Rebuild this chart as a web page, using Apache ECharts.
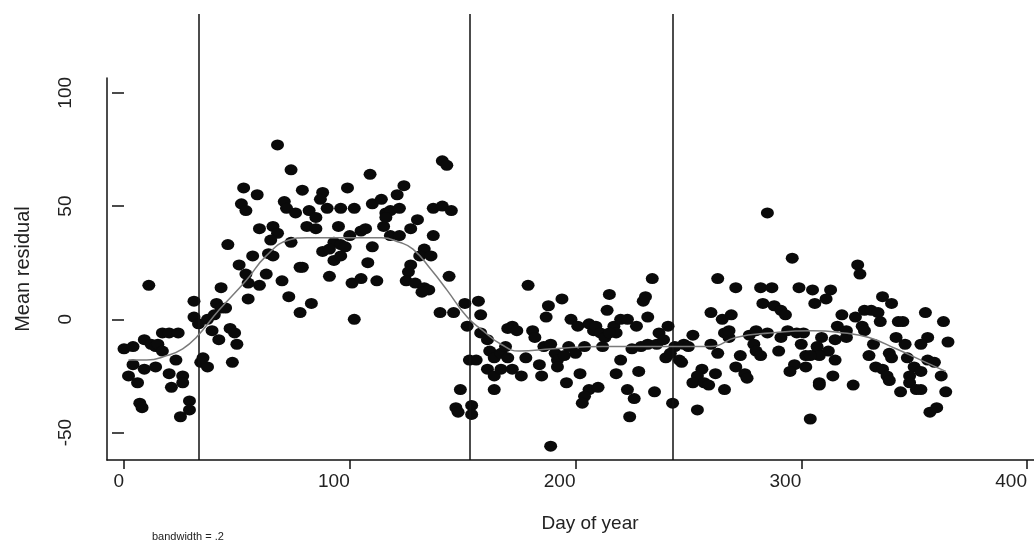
<!DOCTYPE html>
<html>
<head>
<meta charset="utf-8">
<script src="https://cdn.jsdelivr.net/npm/echarts@6/dist/echarts.min.js"></script>
<style>
  html, body { margin: 0; padding: 0; background: #fff; }
  #chart { width: 1034px; height: 544px; }
</style>
</head>
<body>
<div id="chart"></div>
<script>
// daily mean residuals [day, value]
const points = [
  [0,-13],[4,-12],[4,-20],[2,-25],[6,-28],[9,-22],[7,-37],[8,-39],[9,-9],[11,15],[12,-11],[14,-12],[15,-11],[17,-14],
  [17,-6],[20,-6],[24,-6],[14,-21],[20,-24],[23,-18],[21,-30],[26,-25],[26,-28],[29,-36],[29,-40],[25,-43],[31,8],
  [31,1],[33,-2],[34,-19],[37,-21],[35,-17],[37,0],[40,2],[41,7],[43,5],[45,5],[39,-5],[42,-9],[43,14],[48,-19],
  [47,-4],[49,-6],[50,-11],[46,33],[51,24],[54,20],[55,16],[53,58],[52,51],[54,48],[55,9],
  [68,77],[74,66],[109,64],[59,55],[79,57],[71,52],[72,49],[76,47],[82,48],[88,56],[87,53],[90,49],[99,58],[96,49],
  [102,49],[110,51],[114,53],[116,47],[115,41],[60,40],[66,41],[68,38],[65,35],[74,34],[81,41],[85,40],[85,45],
  [95,41],[100,37],[105,39],[107,40],[93,34],[96,33],[98,32],[88,30],[91,31],[93,26],[96,28],[110,32],[108,25],
  [57,28],[64,29],[66,28],[63,20],[78,23],[79,23],[70,17],[60,15],[91,19],[101,16],[105,18],[112,17],[73,10],
  [83,7],[78,3],[102,0],
  [141,70],[143,68],[124,59],[121,55],[137,49],[141,50],[145,48],[118,48],[122,49],[116,45],[130,44],[127,40],
  [118,37],[122,37],[137,37],[133,31],[131,28],[136,28],[127,24],[126,21],[144,19],[125,17],[129,16],[133,14],
  [135,13],[132,12],[140,3],[146,3],[151,7],[157,8],[158,2],[152,-3],[158,-6],[161,-9],[172,-3],[170,-4],[174,-5],
  [179,15],[153,-18],[156,-18],[162,-14],[164,-17],[167,-15],[170,-17],[169,-12],[161,-22],[164,-25],[167,-22],
  [172,-22],[176,-25],[178,-17],[164,-31],[149,-31],[147,-39],[148,-41],[154,-38],[154,-42],
  [181,-5],[182,-8],[184,-20],[185,-25],[188,6],[187,1],[194,9],[186,-12],[189,-11],[191,-15],[192,-18],[192,-21],
  [195,-16],[196,-28],[197,-12],[200,-15],[202,-24],[198,0],[201,-3],[204,-12],[206,-2],[208,-5],[209,-3],[211,-6],
  [213,-8],[212,-12],[215,11],[214,4],[206,-31],[204,-34],[203,-37],[210,-30],[189,-56],[217,-3],[220,0],[223,0],
  [218,-6],[215,-6],[227,-3],[220,-18],[218,-24],[225,-13],[229,-12],[232,-11],[228,-23],[223,-31],[226,-35],
  [224,-43],[234,18],[230,8],[231,10],[232,1],[235,-32],[236,-11],[237,-6],[241,-3],[239,-9],[240,-17],[243,-37],
  [285,47],[296,27],[263,18],[271,14],[282,14],[287,14],[299,14],[305,13],[306,7],[283,7],[288,6],[291,4],[293,2],
  [260,3],[265,0],[269,2],[252,-7],[266,-6],[268,-8],[268,-5],[277,-7],[280,-5],[279,-11],[285,-6],[291,-8],
  [294,-5],[298,-6],[301,-6],[244,-12],[248,-11],[250,-12],[246,-18],[260,-11],[263,-15],[280,-14],[282,-16],
  [290,-14],[300,-11],[302,-16],[307,-15],[273,-16],[271,-21],[275,-24],[276,-26],[256,-22],[254,-25],[252,-28],
  [257,-28],[259,-29],[262,-24],[266,-31],[297,-20],[295,-23],[302,-21],[308,-28],[254,-40],[304,-44],[242,-15],
  [247,-19],
  [325,24],[326,20],[313,13],[311,9],[336,10],[340,7],[318,2],[324,1],[328,4],[331,4],[334,3],[335,-1],[316,-3],
  [320,-5],[327,-3],[328,-5],[343,-1],[345,-1],[355,3],[363,-1],[309,-8],[315,-9],[320,-8],[342,-8],[346,-11],
  [356,-8],[353,-11],[365,-10],[332,-11],[307,-12],[312,-14],[308,-16],[304,-16],[330,-16],[339,-15],[340,-17],
  [315,-18],[347,-17],[356,-18],[359,-19],[333,-21],[336,-22],[338,-25],[339,-27],[350,-21],[353,-23],[348,-25],
  [348,-28],[362,-25],[314,-25],[308,-29],[323,-29],[344,-32],[351,-31],[353,-31],[364,-32],[357,-41],[360,-39]
]

// smoothed curve (bandwidth .2)
const smoothLine = [
  [2,-18],[10,-18],[19,-16],[26,-13],[32,-8],[42,4],[54,17],[63,28],[73,35],[81,36],[96,36],[114,36],[122,34],
  [128,31],[136,22],[143,13],[152,1],[159,-5],[167,-11],[175,-14],[190,-13],[212,-12],[243,-12],[260,-12],
  [271,-8],[286,-6],[305,-5],[319,-6],[330,-8],[342,-13],[353,-18],[364,-23]
]

// vertical reference lines
const breakDays = [33, 153, 243]

const xTicks = [0, 100, 200, 300, 400]
const yTicks = [-50, 0, 50, 100]

const font = 'Liberation Sans'
const ink = '#111'

let options = {
  animation: false,
  backgroundColor: '#fff',
  grid: [
    { left: 107, right: 0, top: 14, bottom: 84 },
    // only used to draw the shorter y axis line
    { left: 107, right: 0, top: 78, bottom: 84 }
  ],
  xAxis: [
    {
      type: 'value', gridIndex: 0, min: -7.53, max: 403.1,
      name: 'Day of year', nameLocation: 'middle', nameGap: 54,
      nameTextStyle: { fontFamily: font, fontSize: 19, color: '#222', padding: [0, 0, 0, 39] },
      axisLine: { show: true, onZero: false, lineStyle: { color: ink, width: 1.5 } },
      axisTick: { show: true, length: 9, customValues: xTicks, lineStyle: { color: ink, width: 1.5 } },
      axisLabel: { customValues: xTicks, margin: 12, align: 'right', fontFamily: font, fontSize: 19, color: '#222' },
      splitLine: { show: false }
    },
    { type: 'value', gridIndex: 1, show: false, min: 0, max: 1 }
  ],
  yAxis: [
    {
      type: 'value', gridIndex: 0, min: -62.1, max: 134.8,
      axisLine: { show: false },
      axisTick: { show: true, length: 12, customValues: yTicks, lineStyle: { color: ink, width: 1.5 } },
      axisLabel: { customValues: yTicks, margin: 32, rotate: 90, fontFamily: font, fontSize: 19, color: '#222' },
      splitLine: { show: false }
    },
    {
      type: 'value', gridIndex: 1, min: 0, max: 1,
      name: 'Mean residual', nameLocation: 'middle', nameGap: 74, nameRotate: 90,
      nameTextStyle: { fontFamily: font, fontSize: 20, color: '#222' },
      axisLine: { show: true, onZero: false, lineStyle: { color: ink, width: 1.5 } },
      axisTick: { show: false },
      axisLabel: { show: false },
      splitLine: { show: false }
    }
  ],
  graphic: [
    {
      type: 'text', left: 152, top: 531,
      style: { text: 'bandwidth = .2', fontFamily: font, fontSize: 11, fill: '#222' }
    }
  ],
  series: [
    {
      type: 'scatter',
      xAxisIndex: 0, yAxisIndex: 0,
      data: points,
      symbol: 'circle',
      symbolSize: [13, 11],
      itemStyle: { color: '#0a0a0a', opacity: 1 },
      markLine: {
        silent: true,
        symbol: ['none', 'none'],
        label: { show: false },
        lineStyle: { color: ink, width: 1.5, type: 'solid' },
        data: breakDays.map(d => ({ xAxis: d }))
      }
    },
    {
      type: 'line',
      xAxisIndex: 0, yAxisIndex: 0,
      data: smoothLine,
      smooth: true,
      showSymbol: false,
      lineStyle: { color: '#7a7a7a', width: 1.5 },
      z: 5
    }
  ]
}

let chart = echarts.init(document.getElementById('chart'), null, { renderer: 'canvas' })
chart.setOption(options)
</script>
</body>
</html>
